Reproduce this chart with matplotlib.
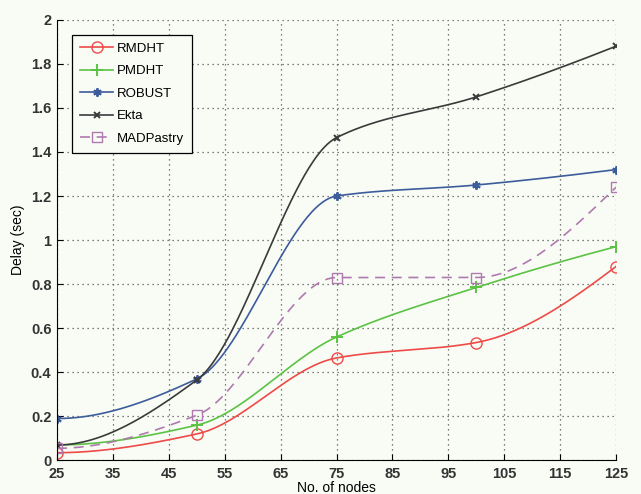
import numpy as np
import matplotlib.pyplot as plt

plt.rcParams['font.family'] = ['Liberation Sans', 'DejaVu Sans']

nodes = [25, 50, 75, 100, 125]
rmdht = [0.035, 0.12, 0.465, 0.535, 0.88]
pmdht = [0.07, 0.16, 0.56, 0.785, 0.97]
robust = [0.19, 0.37, 1.20, 1.25, 1.32]
ekta = [0.07, 0.365, 1.465, 1.65, 1.88]
madpastry = [0.055, 0.205, 0.83, 0.83, 1.24]


def pchip(x, y, xs):
    # shape-preserving piecewise cubic, like matlab's pchip
    x = np.asarray(x, float)
    y = np.asarray(y, float)
    h = np.diff(x)
    d = np.diff(y) / h
    m = np.zeros_like(y)
    for k in range(1, len(x) - 1):
        if d[k - 1] * d[k] > 0:
            w1 = 2 * h[k] + h[k - 1]
            w2 = h[k] + 2 * h[k - 1]
            m[k] = (w1 + w2) / (w1 / d[k - 1] + w2 / d[k])
    m[0] = ((2 * h[0] + h[1]) * d[0] - h[0] * d[1]) / (h[0] + h[1])
    if np.sign(m[0]) != np.sign(d[0]):
        m[0] = 0
    m[-1] = ((2 * h[-1] + h[-2]) * d[-1] - h[-1] * d[-2]) / (h[-1] + h[-2])
    if np.sign(m[-1]) != np.sign(d[-1]):
        m[-1] = 0
    idx = np.clip(np.searchsorted(x, xs) - 1, 0, len(x) - 2)
    t = (xs - x[idx]) / h[idx]
    h00 = 2 * t**3 - 3 * t**2 + 1
    h10 = t**3 - 2 * t**2 + t
    h01 = -2 * t**3 + 3 * t**2
    h11 = t**3 - t**2
    return (h00 * y[idx] + h10 * h[idx] * m[idx] + h01 * y[idx + 1]
            + h11 * h[idx] * m[idx + 1])


asterisk = (6, 2, 0)
series = [
    ("RMDHT", rmdht, "#ee4a48", "o", "-", 8),
    ("PMDHT", pmdht, "#5cc244", "+", "-", 8),
    ("ROBUST", robust, "#3d5c9c", asterisk, "-", 6),
    ("Ekta", ekta, "#3a3a3a", "x", "-", 5),
    ("MADPastry", madpastry, "#b07ab0", "s", "--", 7),
]

bg = "#f8fcf5"
fig = plt.figure(figsize=(6.41, 4.94), dpi=100, facecolor=bg)
ax = fig.add_axes([0.089, 0.068, 0.872, 0.892])
ax.set_facecolor(bg)

xs = np.linspace(25, 125, 400)
for name, vals, col, mk, ls, ms in series:
    hollow = mk in ("o", "s")
    ax.plot(xs, pchip(nodes, vals, xs), color=col, ls=ls, lw=1.2,
            dashes=(6, 4) if ls == "--" else (None, None))
    ax.plot(nodes, vals, ls="none", marker=mk, ms=ms, color=col,
            mfc="none" if hollow else col, mew=1.0 if hollow else 1.4)
    ax.plot([], [], color=col, ls=ls, marker=mk, ms=ms, lw=1.2,
            dashes=(6, 4) if ls == "--" else (None, None),
            mfc="none" if hollow else col, mew=1.0 if hollow else 1.4,
            label=name)

ax.set_xlim(25, 125)
ax.set_ylim(0, 2)
ax.set_xticks(np.arange(25, 126, 10))
ax.set_yticks(np.arange(0, 2.01, 0.2))
ax.set_yticklabels(["0", "0.2", "0.4", "0.6", "0.8", "1", "1.2", "1.4",
                    "1.6", "1.8", "2"])
ax.grid(True, color="#555555", ls=(0, (1, 3)), lw=0.9)
ax.spines["top"].set_visible(False)
ax.spines["right"].set_visible(False)
ax.tick_params(direction="in", labelsize=10.5, length=4)
ax.tick_params(axis="x", pad=5)
ax.tick_params(axis="y", pad=4)
for lab in ax.get_xticklabels() + ax.get_yticklabels():
    lab.set_fontweight("bold")
    lab.set_color("#333333")
ax.set_xlabel("No. of nodes", fontsize=10, labelpad=0)
ax.set_ylabel("Delay (sec)", fontsize=10, labelpad=4)

leg = ax.legend(loc="upper left", bbox_to_anchor=(0.027, 0.966),
                fancybox=False, edgecolor="black", fontsize=9.5,
                handlelength=2.5, handletextpad=0.3, borderpad=0.6,
                labelspacing=0.78, borderaxespad=0)
leg.get_frame().set_linewidth(0.9)
leg.get_frame().set_facecolor(bg)
leg.get_frame().set_alpha(1)

fig.savefig("out.png", dpi=100, facecolor=fig.get_facecolor())
